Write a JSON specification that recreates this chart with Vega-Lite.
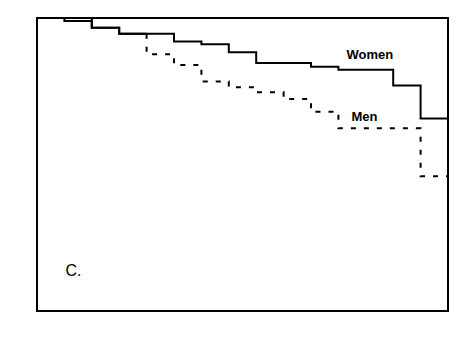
{
  "$schema": "https://vega.github.io/schema/vega-lite/v6.json",
  "width": 411,
  "height": 293,
  "autosize": "none",
  "padding": {"left": 37, "top": 18, "right": 12, "bottom": 32},
  "background": "white",
  "config": {
    "view": {"stroke": "black", "strokeWidth": 2}
  },
  "datasets": {
    "curves": [
      {"series": "Women", "style": "solid", "t": 0, "s": 1.0},
      {"series": "Women", "style": "solid", "t": 2, "s": 0.990},
      {"series": "Women", "style": "solid", "t": 3, "s": 0.984},
      {"series": "Women", "style": "solid", "t": 5, "s": 0.976},
      {"series": "Women", "style": "solid", "t": 6, "s": 0.973},
      {"series": "Women", "style": "solid", "t": 7, "s": 0.965},
      {"series": "Women", "style": "solid", "t": 8, "s": 0.954},
      {"series": "Women", "style": "solid", "t": 10, "s": 0.950},
      {"series": "Women", "style": "solid", "t": 11, "s": 0.947},
      {"series": "Women", "style": "solid", "t": 13, "s": 0.931},
      {"series": "Women", "style": "solid", "t": 14, "s": 0.897},
      {"series": "Women", "style": "solid", "t": 15, "s": 0.897},
      {"series": "Men early", "style": "solid", "t": 0, "s": 1.0},
      {"series": "Men early", "style": "solid", "t": 1, "s": 0.997},
      {"series": "Men early", "style": "solid", "t": 2, "s": 0.990},
      {"series": "Men early", "style": "solid", "t": 3, "s": 0.984},
      {"series": "Men early", "style": "solid", "t": 4, "s": 0.984},
      {"series": "Men", "style": "dashed", "t": 4, "s": 0.984},
      {"series": "Men", "style": "dashed", "t": 4, "s": 0.963},
      {"series": "Men", "style": "dashed", "t": 5, "s": 0.952},
      {"series": "Men", "style": "dashed", "t": 6, "s": 0.935},
      {"series": "Men", "style": "dashed", "t": 7, "s": 0.929},
      {"series": "Men", "style": "dashed", "t": 8, "s": 0.924},
      {"series": "Men", "style": "dashed", "t": 9, "s": 0.917},
      {"series": "Men", "style": "dashed", "t": 10, "s": 0.904},
      {"series": "Men", "style": "dashed", "t": 11, "s": 0.887},
      {"series": "Men", "style": "dashed", "t": 14, "s": 0.838},
      {"series": "Men", "style": "dashed", "t": 15, "s": 0.838}
    ],
    "labels": [
      {"label": "Women", "t": 12.15, "s": 0.962, "kind": "bold"},
      {"label": "Men", "t": 11.95, "s": 0.899, "kind": "bold"},
      {"label": "C.", "t": 1.33, "s": 0.7405, "kind": "normal"}
    ]
  },
  "layer": [
    {
      "data": {"name": "curves"},
      "mark": {"type": "line", "interpolate": "step-after", "color": "black", "strokeWidth": 2, "clip": true},
      "encoding": {
        "x": {"field": "t", "type": "quantitative", "title": null, "scale": {"domain": [0, 15], "nice": false},
          "axis": {"values": [0,1,2,3,4,5,6,7,8,9,10,11,12,13,14,15], "grid": false, "zindex": 1, "domainColor": "black", "domainWidth": 2,
            "ticks": true, "tickSize": -6, "tickColor": "black", "tickWidth": 2,
            "labelPadding": 20, "labelFontSize": 17, "labelFont": "Liberation Sans", "labelColor": "black", "labelOverlap": false}},
        "y": {"field": "s", "type": "quantitative", "title": null, "scale": {"domain": [0.7, 1.0], "nice": false, "zero": false},
          "axis": {"values": [0.7, 0.75, 0.8, 0.85, 0.9, 0.95, 1.0], "grid": false, "zindex": 1, "domainColor": "black", "domainWidth": 2,
            "ticks": true, "tickSize": -6, "tickColor": "black", "tickWidth": 2,
            "labelPadding": 18, "labelFontSize": 17, "labelFont": "Liberation Sans", "labelColor": "black", "labelOverlap": false,
            "labelExpr": "abs(datum.value*10 - round(datum.value*10)) > 0.01 ? '' : (datum.value >= 0.999 ? '1' : substring(format(datum.value, '.1f'), 1))"}},
        "detail": {"field": "series"},
        "strokeDash": {"field": "style", "type": "nominal", "scale": {"domain": ["solid", "dashed"], "range": [[1, 0], [5, 8]]}, "legend": null}
      }
    },
    {
      "data": {"name": "labels"},
      "transform": [{"filter": "datum.kind == 'bold'"}],
      "mark": {"type": "text", "fontSize": 13, "fontWeight": "bold", "color": "black", "font": "Liberation Sans"},
      "encoding": {
        "x": {"field": "t", "type": "quantitative", "axis": null},
        "y": {"field": "s", "type": "quantitative", "axis": null},
        "text": {"field": "label"}
      }
    },
    {
      "data": {"name": "labels"},
      "transform": [{"filter": "datum.kind == 'normal'"}],
      "mark": {"type": "text", "fontSize": 16, "color": "black", "font": "Liberation Sans"},
      "encoding": {
        "x": {"field": "t", "type": "quantitative", "axis": null},
        "y": {"field": "s", "type": "quantitative", "axis": null},
        "text": {"field": "label"}
      }
    }
  ]
}
